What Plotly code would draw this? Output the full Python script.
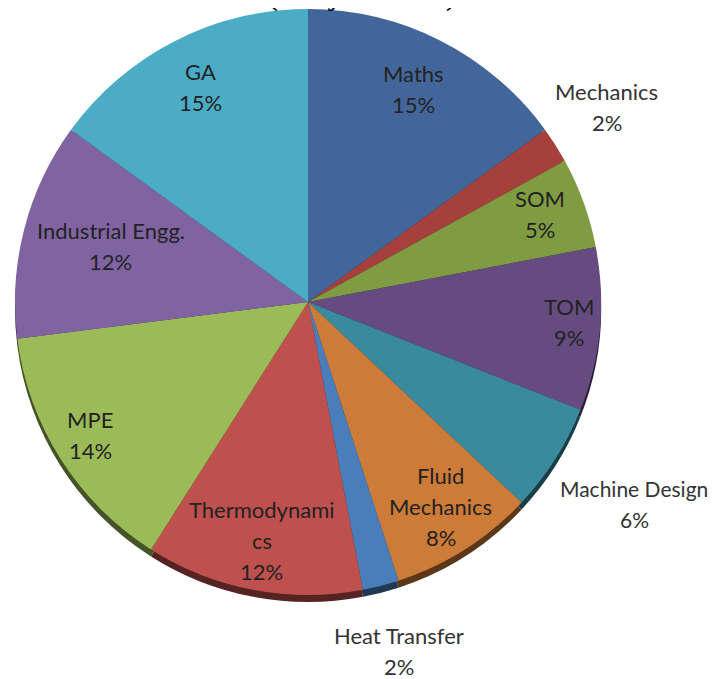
import math
import plotly.graph_objects as go

# ---- data ----
subjects = ["Maths", "Mechanics", "SOM", "TOM", "Machine Design", "Fluid Mechanics",
            "Heat Transfer", "Thermodynamics", "MPE", "Industrial Engg.", "GA"]
shares = [15, 2, 5, 9, 6, 8, 2, 12, 14, 12, 15]
label_texts = ["Maths", "Mechanics", "SOM", "TOM", "Machine Design", "Fluid<br>Mechanics",
               "Heat Transfer", "Thermodynami<br>cs", "MPE", "Industrial Engg.", "GA"]
title_text = "(Subject wise)"

# ---- style ----
colors = ["#426699", "#A5403D", "#7F9C42", "#664B80", "#3A8A9D", "#CC7B38",
          "#4A7EBB", "#BE504D", "#9BBB59", "#8064A2", "#4BACC6"]
label_radius = [0.79, 1.20, 0.835, 0.89, 1.31, 0.84, 1.24, 0.84, 0.875, 0.69, 0.80]
label_sizes = [22, 22, 22, 22, 21, 22, 22, 22, 22, 22, 22]
label_colors = ["#222222", "#333333", "#222222", "#222222", "#333333", "#222222",
                "#333333", "#222222", "#222222", "#222222", "#222222"]

# page has an 8px body margin: figure coords = page coords - 8
W, H = 713, 671
CX, CY, R = 300, 294, 293      # pie centre / radius (figure px)
LCX, LCY, LR = 300, 289, 295   # reference frame for label placement
RIM = 7
LINE_H = 31
FONT = "Lato"


def darken(hexc, f=0.45):
    hexc = hexc.lstrip("#")
    r, g, b = (int(hexc[i:i + 2], 16) for i in (0, 2, 4))
    return "#%02x%02x%02x" % (int(r * f), int(g * f), int(b * f))


def dom(shift=0):
    return dict(x=[(CX - R) / W, (CX + R) / W],
                y=[max(0, 1 - (CY + R + shift) / H), min(1, 1 - (CY - R + shift) / H)])


fig = go.Figure()
# 3D rim (darker copy, shifted down)
fig.add_trace(go.Pie(labels=subjects, values=shares, sort=False, direction="clockwise",
                     rotation=0, textinfo="none", hoverinfo="skip", showlegend=False,
                     marker=dict(colors=[darken(c) for c in colors], line=dict(width=0)),
                     domain=dom(RIM)))
# main pie
fig.add_trace(go.Pie(labels=subjects, values=shares, sort=False, direction="clockwise",
                     rotation=0, textinfo="none", showlegend=False,
                     marker=dict(colors=colors, line=dict(width=0)),
                     domain=dom(0)))

# labels
total = sum(shares)
cum = 0
annotations = []
for name, v, txt, rf, fs, col in zip(subjects, shares, label_texts, label_radius,
                                     label_sizes, label_colors):
    mid = (cum + v / 2) / total * 2 * math.pi
    cum += v
    bx = LCX + rf * LR * math.sin(mid)
    by = LCY - rf * LR * math.cos(mid)
    lines = txt.split("<br>") + ["%d%%" % round(v / total * 100)]
    n = len(lines)
    for i, ln in enumerate(lines):
        py = by + (i - (n - 1) / 2) * LINE_H
        annotations.append(dict(x=bx / W, y=1 - py / H, xref="paper", yref="paper",
                                text=ln, showarrow=False, xanchor="center", yanchor="middle",
                                font=dict(family=FONT, size=fs, color=col)))

# partially visible title at the very top
annotations.append(dict(x=354 / W, y=1 + 14 / H, xref="paper", yref="paper",
                        text=title_text, showarrow=False, xanchor="center", yanchor="middle",
                        font=dict(family="Liberation Serif", size=33, color="#000000")))

fig.update_layout(width=W, height=H, margin=dict(l=0, r=0, t=0, b=0),
                  paper_bgcolor="white", plot_bgcolor="white",
                  annotations=annotations, showlegend=False)

fig.write_html("out.html")
